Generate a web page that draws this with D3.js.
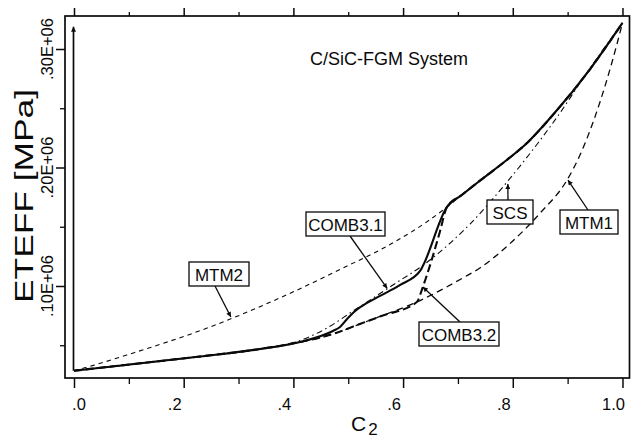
<!DOCTYPE html>
<html><head><meta charset="utf-8">
<script src="https://cdn.jsdelivr.net/npm/d3@7/dist/d3.min.js"></script>
<style>
body{margin:0;background:#fff;}
svg{display:block;font-family:"Liberation Sans",Arial,Helvetica,sans-serif;}
</style></head>
<body>
<svg id="chart" width="631" height="438"></svg>
<script>
// ---------------- data ----------------
const mtm1X = [0,0.102,0.23,0.339,0.412,0.472,0.521,0.558,0.625,0.709,0.74,0.8,0.85,0.899,0.9225,0.959,0.981,1.0];
const mtm1Y = [28500,33800,40500,46800,52700,59500,67900,74300,86500,106800,115200,138000,161600,189500,210500,255300,289000,322000];

const mtm2X = [0,0.035,0.102,0.248,0.399,0.498,0.558,0.673,0.707,0.737,0.789,0.826,0.873,0.941,1.0];
const mtm2Y = [28500,33000,42600,65400,94900,116900,130400,164100,176800,187800,206300,220700,244300,283100,322000];

const scsX = [0,0.102,0.23,0.339,0.412,0.458,0.509,0.576,0.649,0.722,0.791,0.846,0.886,0.9225,0.959,1.0];
const scsY = [28500,33800,40500,46800,54000,63700,78900,99200,121900,152300,188600,220700,246000,271300,295800,322000];

const comb31X = [0,0.102,0.23,0.339,0.412,0.472,0.485,0.498,0.5105,0.525,0.558,0.594,0.631,0.636,0.68,0.707,0.737,0.789,0.826,0.873,0.941,1.0];
const comb31Y = [28500,33800,40500,46800,52700,62000,65400,72200,78100,83100,91600,100800,112700,116900,166700,176800,187800,206300,220700,244300,283100,322000];

const comb32X = [0,0.102,0.23,0.339,0.412,0.472,0.521,0.558,0.625,0.636,0.651,0.667,0.68,0.707,0.737,0.789,0.826,0.873,0.941,1.0];
const comb32Y = [28500,33800,40500,46800,52700,59500,67900,74300,86500,99200,120300,145600,166700,176800,187800,206300,220700,244300,283100,322000];

// vertical arrow at c2 = 0
const arrowX = [0, 0];
const arrowY = [28500, 318800];

const xTicks = [0, 0.2, 0.4, 0.6, 0.8, 1.0];
const xTickLabels = [".0", ".2", ".4", ".6", ".8", "1.0"];
const xMinorTicks = [0.1, 0.3, 0.5, 0.7, 0.9];
const yTicks = [100000, 200000, 300000];
const yTickLabels = [".10E+06", ".20E+06", ".30E+06"];
const yMinorTicks = [50000, 150000, 250000];

const title = "C/SiC-FGM System";
const yTitle = "ETEFF [MPa]";

// annotation labels: text and the point on the curve the arrow points to
const annTexts = ["MTM2", "COMB3.1", "SCS", "MTM1", "COMB3.2"];
const annTipX = [0.286, 0.571, 0.791, 0.9006, 0.636];
const annTipY = [73800, 97900, 186000, 189400, 99200];

// ---------------- layout ----------------
const frame = {left: 65, right: 629.5, top: 16, bottom: 378};
// box geometry (layout only): left, top, width, height, arrow start x, arrow start y
const annBoxes = [
  [189, 262, 60, 24, 215, 286],
  [306, 212, 79, 24, 350, 236],
  [487, 200, 46, 24, 508, 200],
  [560, 210, 58, 24, 588, 210],
  [419, 322, 80, 24, 460, 322]
];

const svg = d3.select("#chart");
const x = d3.scaleLinear().domain([-0.0164, 1.0128]).range([frame.left, frame.right]);
const y = d3.scaleLinear().domain([22360, 327850]).range([frame.bottom, frame.top]);
const ink = "#0a0a0a";

// markers
const defs = svg.append("defs");
defs.append("marker").attr("id","ah").attr("viewBox","0 0 10 10").attr("refX",10).attr("refY",5)
  .attr("markerWidth",7).attr("markerHeight",5).attr("markerUnits","userSpaceOnUse").attr("orient","auto")
  .append("path").attr("d","M0,0L10,5L0,10Z").attr("fill",ink);
defs.append("marker").attr("id","ahBig").attr("viewBox","0 0 10 10").attr("refX",10).attr("refY",5)
  .attr("markerWidth",12).attr("markerHeight",5).attr("markerUnits","userSpaceOnUse").attr("orient","auto")
  .append("path").attr("d","M0,0L10,5L0,10Z").attr("fill",ink);

// frame
svg.append("rect").attr("x",frame.left).attr("y",frame.top)
  .attr("width",frame.right-frame.left).attr("height",frame.bottom-frame.top)
  .attr("fill","none").attr("stroke",ink).attr("stroke-width",1.7);

// x axis bottom
const xAxis = svg.append("g").attr("transform",`translate(0,${frame.bottom})`)
  .call(d3.axisBottom(x).tickValues(xTicks).tickSize(10).tickPadding(10)
    .tickFormat((d,i)=>xTickLabels[i]));
xAxis.select(".domain").remove();
xAxis.selectAll("line").attr("stroke",ink).attr("stroke-width",1.5);
xAxis.selectAll("text").attr("font-size",16.5).attr("fill",ink).attr("font-family","Liberation Sans, Arial, sans-serif")
  .attr("dx",(d,i)=> i===0 ? 4.5 : -9.5);
const xMinor = svg.append("g").attr("transform",`translate(0,${frame.bottom})`)
  .call(d3.axisBottom(x).tickValues(xMinorTicks).tickSize(6).tickFormat(""));
xMinor.select(".domain").remove();
xMinor.selectAll("line").attr("stroke",ink).attr("stroke-width",1.3);

// x axis top (ticks only)
const xTop = svg.append("g").attr("transform",`translate(0,${frame.top})`)
  .call(d3.axisTop(x).tickValues(xTicks).tickSize(8).tickFormat(""));
xTop.select(".domain").remove();
xTop.selectAll("line").attr("stroke",ink).attr("stroke-width",1.5);
const xTopMinor = svg.append("g").attr("transform",`translate(0,${frame.top})`)
  .call(d3.axisTop(x).tickValues(xMinorTicks).tickSize(4).tickFormat(""));
xTopMinor.select(".domain").remove();
xTopMinor.selectAll("line").attr("stroke",ink).attr("stroke-width",1.3);

// y axis left
const yAxis = svg.append("g").attr("transform",`translate(${frame.left},0)`)
  .call(d3.axisLeft(y).tickValues(yTicks).tickSize(9).tickFormat(""));
yAxis.select(".domain").remove();
yAxis.selectAll("line").attr("stroke",ink).attr("stroke-width",1.5);
const yMinor = svg.append("g").attr("transform",`translate(${frame.left},0)`)
  .call(d3.axisLeft(y).tickValues(yMinorTicks).tickSize(5).tickFormat(""));
yMinor.select(".domain").remove();
yMinor.selectAll("line").attr("stroke",ink).attr("stroke-width",1.3);
svg.append("g").selectAll("text").data(yTicks).join("text")
  .attr("transform",d=>`translate(53,${y(d)}) rotate(-90)`)
  .attr("text-anchor","middle").attr("font-size",16.5).attr("fill",ink)
  .text((d,i)=>yTickLabels[i]);

// axis titles
svg.append("text").attr("transform","translate(33,196) rotate(-90)")
  .attr("text-anchor","middle").attr("font-size",25).attr("fill",ink)
  .attr("textLength",214).attr("lengthAdjust","spacingAndGlyphs").text(yTitle);
const xt = svg.append("text").attr("x",351).attr("y",431).attr("font-size",21).attr("fill",ink);
xt.append("tspan").text("C");
xt.append("tspan").attr("dx",2).attr("dy",4).attr("font-size",17).text("2");

svg.append("text").attr("x",310).attr("y",65).attr("font-size",18).attr("fill",ink).text(title);

// curves
const line = d3.line().x(d=>x(d[0])).y(d=>y(d[1])).curve(d3.curveMonotoneX);
const zip = (a,b)=>a.map((v,i)=>[v,b[i]]);
const g = svg.append("g").attr("fill","none").attr("stroke",ink);
g.append("path").attr("d",line(zip(mtm2X,mtm2Y))).attr("stroke-width",1.1).attr("stroke-dasharray","4.5,4");
g.append("path").attr("d",line(zip(mtm1X,mtm1Y))).attr("stroke-width",1.3).attr("stroke-dasharray","6.5,4.5");
g.append("path").attr("d",line(zip(scsX,scsY))).attr("stroke-width",1.1).attr("stroke-dasharray","6,3.5,1.5,3.5");
g.append("path").attr("d",line(zip(comb32X,comb32Y))).attr("stroke-width",2.1).attr("stroke-dasharray","8,4");
g.append("path").attr("d",line(zip(comb31X,comb31Y))).attr("stroke-width",2.1);

// vertical arrow at c2 = 0
svg.append("line").attr("x1",x(arrowX[0])-0.5).attr("y1",y(arrowY[0]))
  .attr("x2",x(arrowX[1])-0.5).attr("y2",y(arrowY[1]))
  .attr("stroke",ink).attr("stroke-width",1.7).attr("marker-end","url(#ahBig)");

// annotation boxes
const ann = svg.append("g");
annTexts.forEach((t,i)=>{
  const b = annBoxes[i];
  ann.append("line").attr("x1",b[4]).attr("y1",b[5])
    .attr("x2",x(annTipX[i])).attr("y2",y(annTipY[i]))
    .attr("stroke",ink).attr("stroke-width",1.3).attr("marker-end","url(#ah)");
  ann.append("rect").attr("x",b[0]).attr("y",b[1]).attr("width",b[2]).attr("height",b[3])
    .attr("fill","#fff").attr("stroke",ink).attr("stroke-width",1.3);
  ann.append("text").attr("x",b[0]+b[2]/2).attr("y",b[1]+b[3]/2+6.5)
    .attr("text-anchor","middle").attr("font-size",17).attr("fill",ink).text(t);
});
</script>
</body></html>
